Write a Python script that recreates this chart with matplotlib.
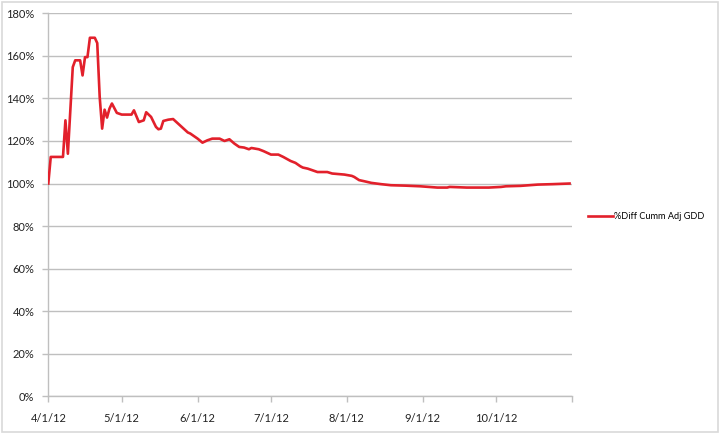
import matplotlib
matplotlib.use("Agg")
import matplotlib.pyplot as plt
from matplotlib.patches import Rectangle
from matplotlib.ticker import FuncFormatter
import pandas as pd

plt.rcParams["font.family"] = ["Lato", "DejaVu Sans"]

# --- data (vertices of the line) ---
dates = [
    "2012-04-01", "2012-04-02", "2012-04-07", "2012-04-08", "2012-04-09",
    "2012-04-11", "2012-04-12", "2012-04-14", "2012-04-15", "2012-04-16",
    "2012-04-17", "2012-04-18", "2012-04-20", "2012-04-21", "2012-04-22",
    "2012-04-23", "2012-04-24", "2012-04-25", "2012-04-26", "2012-04-27",
    "2012-04-29", "2012-05-01", "2012-05-05", "2012-05-06", "2012-05-08",
    "2012-05-10", "2012-05-11", "2012-05-13", "2012-05-15", "2012-05-16",
    "2012-05-17", "2012-05-18", "2012-05-20", "2012-05-22", "2012-05-24",
    "2012-05-28", "2012-05-29", "2012-06-01", "2012-06-03", "2012-06-05",
    "2012-06-07", "2012-06-10", "2012-06-12", "2012-06-14", "2012-06-16",
    "2012-06-18", "2012-06-20", "2012-06-22", "2012-06-23", "2012-06-26",
    "2012-06-28", "2012-07-01", "2012-07-04", "2012-07-06", "2012-07-09",
    "2012-07-11", "2012-07-13", "2012-07-14", "2012-07-16", "2012-07-20",
    "2012-07-24", "2012-07-26", "2012-07-31", "2012-08-03", "2012-08-04",
    "2012-08-06", "2012-08-08", "2012-08-11", "2012-08-15", "2012-08-19",
    "2012-08-25", "2012-08-31", "2012-09-07", "2012-09-11", "2012-09-12",
    "2012-09-19", "2012-09-28", "2012-10-03", "2012-10-05", "2012-10-11",
    "2012-10-18", "2012-10-24", "2012-10-31",
]
pct_diff = [
    100.0, 112.5, 112.5, 129.7, 114.0,
    154.7, 157.9, 157.9, 150.8, 159.4,
    159.4, 168.5, 168.5, 166.0, 140.7,
    125.8, 134.7, 131.0, 135.2, 137.6,
    133.2, 132.4, 132.4, 134.4, 128.9,
    129.7, 133.5, 131.3, 126.6, 125.5,
    125.8, 129.4, 130.0, 130.3, 128.2,
    124.0, 123.5, 121.1, 119.2, 120.3,
    121.1, 121.1, 120.0, 120.8, 118.8,
    117.2, 116.9, 116.1, 116.7, 116.1,
    115.2, 113.6, 113.6, 112.5, 110.6,
    109.7, 108.1, 107.5, 107.0, 105.4,
    105.4, 104.7, 104.2, 103.6, 103.1,
    101.6, 101.1, 100.3, 99.7, 99.2,
    99.0, 98.7, 98.1, 98.1, 98.4,
    98.1, 98.1, 98.4, 98.7, 98.9,
    99.5, 99.7, 100.0,
]
series_name = "%Diff Cumm Adj GDD"
tick_dates = ["2012-04-01", "2012-05-01", "2012-06-01", "2012-07-01",
              "2012-08-01", "2012-09-01", "2012-10-01", "2012-11-01"]
tick_labels = ["4/1/12", "5/1/12", "6/1/12", "7/1/12",
               "8/1/12", "9/1/12", "10/1/12", ""]

x = pd.to_datetime(dates)

fig = plt.figure(figsize=(7.2, 4.33), dpi=100)
ax = fig.add_axes([48.3 / 720, 1 - 396.3 / 433, (572 - 48.3) / 720, (396.3 - 13.3) / 433])

ax.plot(x, pct_diff, color="#E2202B", linewidth=1.9, label=series_name, zorder=3)

ax.set_ylim(0, 180)
ax.set_yticks(range(0, 181, 20))
ax.yaxis.set_major_formatter(FuncFormatter(lambda v, p: f"{v:.0f}%"))
ax.set_xlim(pd.Timestamp(tick_dates[0]), pd.Timestamp(tick_dates[-1]))
ax.set_xticks(pd.to_datetime(tick_dates))
ax.set_xticklabels(tick_labels)

ax.grid(axis="y", color="#BFBFBF", linewidth=1.0)
ax.set_axisbelow(True)
for s in ["top", "right"]:
    ax.spines[s].set_visible(False)
for s in ["left", "bottom"]:
    ax.spines[s].set_color("#BFBFBF")
    ax.spines[s].set_linewidth(1.0)
ax.tick_params(axis="both", color="#BFBFBF", length=4, width=1.0,
               labelsize=8, labelcolor="#222222")
ax.tick_params(axis="y", pad=6)
ax.tick_params(axis="x", pad=8)

ax.legend(loc="center left", bbox_to_anchor=(1.031, 0.47), frameon=False,
          fontsize=6.6, handlelength=2.7, handletextpad=0.15,
          borderaxespad=0, borderpad=0)

# Excel-style chart frame
fig.patches.append(Rectangle((1.5 / 720, 1.5 / 433), 716 / 720, 430 / 433,
                             transform=fig.transFigure, fill=False,
                             edgecolor="#D9D9D9", linewidth=1.2))

fig.savefig("out.png", dpi=100)
